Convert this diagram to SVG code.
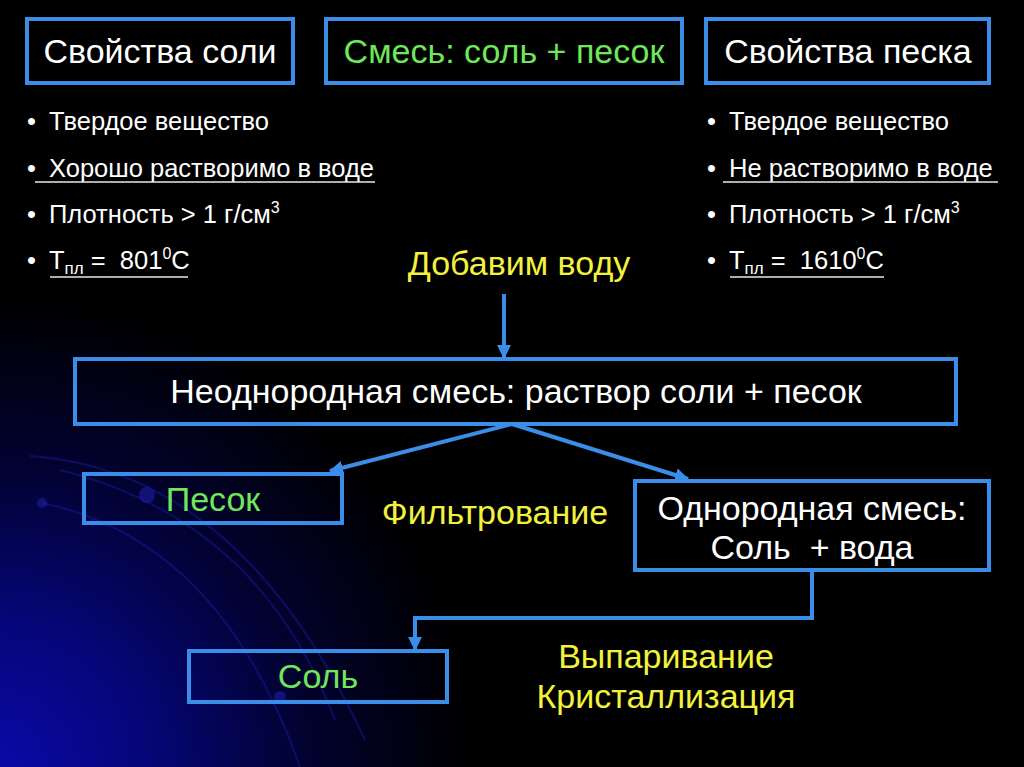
<svg xmlns="http://www.w3.org/2000/svg" width="1024" height="767" viewBox="0 0 1024 767">
  <defs>
    <radialGradient id="bg" cx="0" cy="767" r="470" gradientUnits="userSpaceOnUse">
      <stop offset="0" stop-color="#0a0aa8"/>
      <stop offset="0.3" stop-color="#06067a"/>
      <stop offset="0.65" stop-color="#020230"/>
      <stop offset="1" stop-color="#000000"/>
    </radialGradient>
    <marker id="ah" markerUnits="userSpaceOnUse" markerWidth="16" markerHeight="14" refX="13" refY="7" orient="auto">
      <path d="M0,0 L14,7 L0,14 Z" fill="#3a8ee8"/>
    </marker>
    <style>
      .box { fill: none; stroke: #3a8ee8; stroke-width: 4; }
      .conn { fill: none; stroke: #3a8ee8; stroke-width: 4; }
      .t { font-family: "Liberation Sans", Arial, sans-serif; }
      .big { font-size: 34px; }
      .sm { font-size: 25.5px; fill: #ffffff; }
      .white { fill: #ffffff; }
      .green { fill: #6ee85a; }
      .yellow { fill: #f2f23c; }
      .ul { stroke: #e8e8e8; stroke-width: 1.5; }
      .arc { fill: none; stroke: #16168c; stroke-width: 2; opacity: 0.6; }
      .dot { fill: #1a1aa0; opacity: 0.65; }
    </style>
  </defs>

  <rect x="0" y="0" width="1024" height="767" fill="#000000"/>
  <rect x="0" y="0" width="1024" height="767" fill="url(#bg)"/>

  <!-- decorative background arcs -->
  <path class="arc" d="M 30 456 Q 240 470 365 740"/>
  <path class="arc" d="M 42 503 Q 220 540 300 767"/>
  <path class="arc" d="M 60 470 Q 260 520 335 720"/>
  <circle class="dot" cx="42" cy="503" r="5"/>
  <circle class="dot" cx="147" cy="495" r="8"/>
  <circle class="dot" cx="280" cy="697" r="6"/>

  <g id="salt-props">
    <rect class="box" x="27" y="19" width="266" height="64"/>
    <text class="t big white" x="160" y="63" text-anchor="middle">Свойства соли</text>
  </g>

  <g id="mixture">
    <rect class="box" x="326" y="19" width="356" height="64"/>
    <text class="t big green" x="504" y="63" text-anchor="middle">Смесь: соль + песок</text>
  </g>

  <g id="sand-props">
    <rect class="box" x="706" y="19" width="283" height="64"/>
    <text class="t big white" x="848" y="63" text-anchor="middle">Свойства песка</text>
  </g>

  <g id="salt-list">
    <text class="t sm" x="27" y="130">•</text>
    <text class="t sm" x="49" y="130">Твердое вещество</text>
    <text class="t sm" x="27" y="177">•</text>
    <text class="t sm" x="49" y="177">Хорошо растворимо в воде</text>
    <line class="ul" x1="35" y1="182" x2="375" y2="182"/>
    <text class="t sm" x="27" y="223">•</text>
    <text class="t sm" x="49" y="223">Плотность &gt; 1 г/см<tspan font-size="16" dy="-10">3</tspan></text>
    <text class="t sm" x="27" y="269">•</text>
    <text class="t sm" x="49" y="269" xml:space="preserve">Т<tspan font-size="17" dy="5">пл</tspan><tspan dy="-5"> =  801</tspan><tspan font-size="16" dy="-10">0</tspan><tspan dy="10">С</tspan></text>
    <line class="ul" x1="50" y1="277" x2="188" y2="277"/>
  </g>

  <g id="sand-list">
    <text class="t sm" x="707" y="130">•</text>
    <text class="t sm" x="729" y="130">Твердое вещество</text>
    <text class="t sm" x="707" y="177">•</text>
    <text class="t sm" x="729" y="177">Не растворимо в воде</text>
    <line class="ul" x1="723" y1="182" x2="998" y2="182"/>
    <text class="t sm" x="707" y="223">•</text>
    <text class="t sm" x="729" y="223">Плотность &gt; 1 г/см<tspan font-size="16" dy="-10">3</tspan></text>
    <text class="t sm" x="707" y="269">•</text>
    <text class="t sm" x="729" y="269" xml:space="preserve">Т<tspan font-size="17" dy="5">пл</tspan><tspan dy="-5"> =  1610</tspan><tspan font-size="16" dy="-10">0</tspan><tspan dy="10">С</tspan></text>
    <line class="ul" x1="730" y1="277" x2="884" y2="277"/>
  </g>

  <g id="label-add-water">
    <text class="t big yellow" x="519" y="275" text-anchor="middle">Добавим воду</text>
  </g>

  <g id="heterogeneous">
    <rect class="box" x="75" y="359" width="881" height="65"/>
    <text class="t big white" x="516" y="403" text-anchor="middle">Неоднородная смесь: раствор соли + песок</text>
  </g>

  <g id="sand">
    <rect class="box" x="84" y="474" width="258" height="49"/>
    <text class="t big green" x="213" y="511" text-anchor="middle">Песок</text>
  </g>

  <g id="label-filter">
    <text class="t big yellow" x="495" y="524" text-anchor="middle" font-size="34.5">Фильтрование</text>
  </g>

  <g id="homogeneous">
    <rect class="box" x="635" y="481" width="354" height="89"/>
    <text class="t big white" x="812" y="520" text-anchor="middle">Однородная смесь:</text>
    <text class="t big white" x="812" y="559" text-anchor="middle" xml:space="preserve">Соль  + вода</text>
  </g>

  <g id="salt">
    <rect class="box" x="189" y="651" width="258" height="51"/>
    <text class="t big green" x="318" y="688" text-anchor="middle">Соль</text>
  </g>

  <g id="label-evap">
    <text class="t big yellow" x="666" y="668" text-anchor="middle">Выпаривание</text>
    <text class="t big yellow" x="666" y="708" text-anchor="middle">Кристаллизация</text>
  </g>

  <g id="connectors">
    <path class="conn" d="M504 294 L504 358" marker-end="url(#ah)"/>
    <path class="conn" d="M512 424 L330 471" marker-end="url(#ah)"/>
    <path class="conn" d="M512 424 L688 479" marker-end="url(#ah)"/>
    <path class="conn" d="M812 572 L812 618 L415 618 L415 650" marker-end="url(#ah)"/>
  </g>
</svg>
